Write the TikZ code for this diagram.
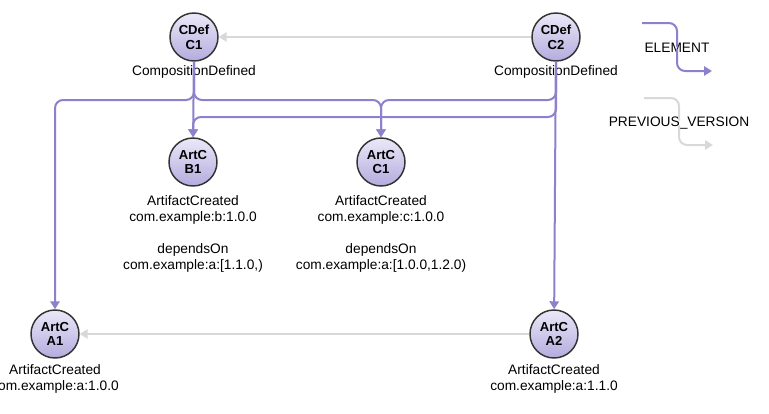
\documentclass[tikz,border=0pt]{standalone}
\usepackage{fontspec}
\setmainfont{Liberation Sans}
\usetikzlibrary{arrows.meta}

\definecolor{elemcol}{HTML}{8E80CC}
\definecolor{prevcol}{HTML}{D8D8D8}
\definecolor{evttop}{HTML}{EBE8F8}
\definecolor{evtbot}{HTML}{B4ABDE}

\begin{document}
\begin{tikzpicture}[x=0.75pt,y=-0.75pt,
    evt/.style={circle,draw=black!80,line width=1.1pt,minimum size=36pt,inner sep=0pt,
      top color=evttop,bottom color=evtbot,align=center,
      font=\bfseries\fontsize{9.8}{11}\selectfont},
    lbl/.style={anchor=north,align=center,inner sep=0pt,font=\fontsize{10.3}{12}\selectfont},
    elem/.style={draw=elemcol,line width=1.5pt,rounded corners=6pt,-{Triangle[width=7pt,length=6pt]}},
    prev/.style={draw=prevcol,line width=1.5pt,rounded corners=6pt,-{Triangle[width=7pt,length=6pt]}}]
    \useasboundingbox (0,0) rectangle (769,414);

    % events
    \node[evt] (cdef1) at (194,37) {CDef\\C1};
    \node[evt] (cdef2) at (556,37) {CDef\\C2};
    \node[evt] (artb1) at (193,162) {ArtC\\B1};
    \node[evt] (artc1) at (381,162) {ArtC\\C1};
    \node[evt] (arta1) at (55,334) {ArtC\\A1};
    \node[evt] (arta2) at (554,334) {ArtC\\A2};

    % texts under the events
    \node[lbl] (cdef1lbl) at (194,65) {CompositionDefined};
    \node[lbl] (cdef2lbl) at (556,65) {CompositionDefined};
    \node[lbl] (artb1lbl) at (193,195) {ArtifactCreated\\com.example:b:1.0.0\\[12pt] dependsOn\\com.example:a:[1.1.0,)};
    \node[lbl] (artc1lbl) at (381,195) {ArtifactCreated\\com.example:c:1.0.0\\[12pt] dependsOn\\com.example:a:[1.0.0,1.2.0)};
    \node[lbl] (arta1lbl) at (55,364) {ArtifactCreated\\com.example:a:1.0.0};
    \node[lbl] (arta2lbl) at (554,364) {ArtifactCreated\\com.example:a:1.1.0};

    % previous versions
    \draw[prev] (cdef2) -- (cdef1);
    \draw[prev] (arta2) -- (arta1);

    % elements
    \draw[elem] (cdef1) -- (artb1);
    \draw[elem] (cdef1) -- (cdef1 |- 0,100) -| (arta1);
    \draw[elem] (cdef1) -- (cdef1 |- 0,100) -| (artc1);
    \draw[elem] (cdef2) -- (arta2);
    \draw[elem] (cdef2) -- (cdef2 |- 0,100) -| (artc1);
    \draw[elem] (cdef2) -- (cdef2 |- 0,117) -| (artb1);

    % legend
    \node[lbl,anchor=center] (elemlbl) at (677,48) {ELEMENT};
    \node[lbl,anchor=center] (prevlbl) at (679,123) {PREVIOUS\_VERSION};
    \coordinate (elemstart) at (642,23);
    \coordinate (elemend) at (712,71);
    \coordinate (prevstart) at (644,98);
    \coordinate (prevend) at (713,145);
    \draw[elem,-] (elemstart) -| ([yshift=-3pt]elemlbl.north);
    \draw[elem] ([yshift=3pt]elemlbl.south) |- (elemend);
    \draw[prev,-] (prevstart) -| ([yshift=-3pt]prevlbl.north);
    \draw[prev] ([yshift=3pt]prevlbl.south) |- (prevend);

\end{tikzpicture}
\end{document}
